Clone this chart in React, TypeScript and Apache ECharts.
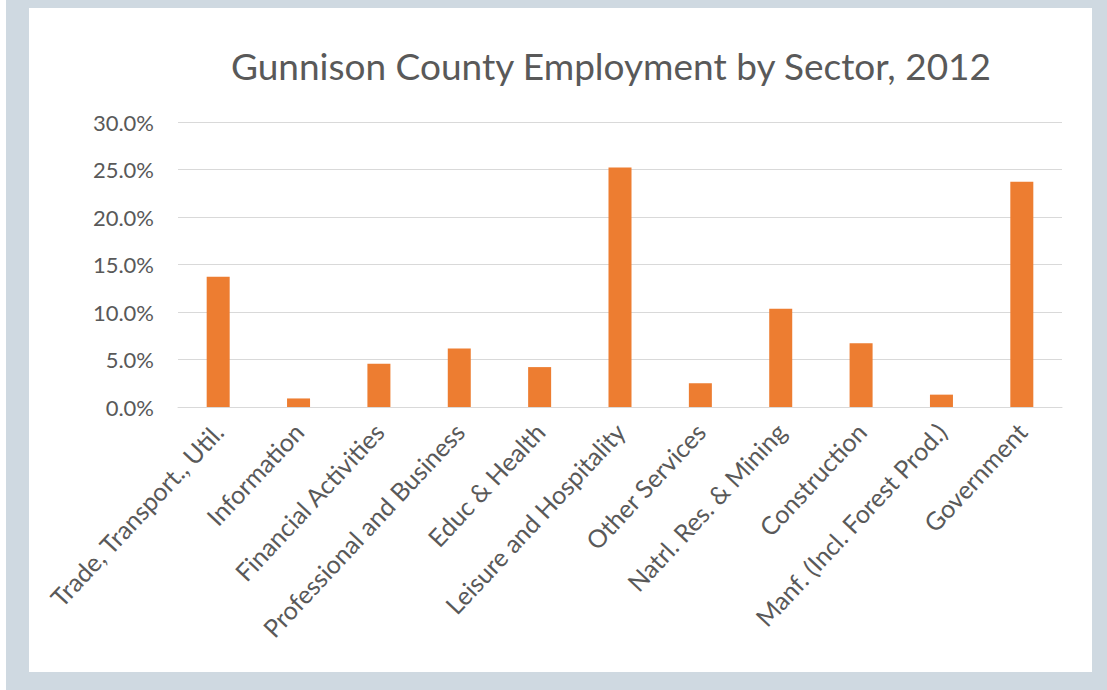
import React, { useEffect, useRef } from "react";
import * as echarts from "echarts";

const titleText = "Gunnison County Employment by Sector, 2012";
const categories = [
  "Trade, Transport., Util.",
  "Information",
  "Financial Activities",
  "Professional and Business",
  "Educ & Health",
  "Leisure and Hospitality",
  "Other Services",
  "Natrl. Res. & Mining",
  "Construction",
  "Manf. (Incl. Forest Prod.)",
  "Government",
];
const shares = [0.137, 0.009, 0.0455, 0.0615, 0.042, 0.252, 0.025, 0.1035, 0.067, 0.013, 0.237];

export default function App() {
  const ref = useRef<HTMLDivElement>(null);
  useEffect(() => {
    document.body.style.margin = "0";
    const chart = echarts.init(ref.current!, null, { renderer: "svg" });
    chart.setOption({
      animation: false,
      backgroundColor: "#ffffff",
      textStyle: { fontFamily: "Lato" },
      graphic: [
        { type: "rect", z: -10, shape: { x: 6, y: 0, width: 1101, height: 690 }, style: { fill: "#cfd9e1" } },
        { type: "rect", z: -9, shape: { x: 29, y: 8, width: 1063, height: 664 }, style: { fill: "#ffffff" } },
      ],
      title: {
        text: titleText,
        left: 606,
        textAlign: "center",
        top: 42,
        textStyle: { fontFamily: "Lato", fontSize: 37, fontWeight: "normal", color: "#595959" },
      },
      grid: { left: 178, right: 45, top: 122, bottom: 283, containLabel: false },
      xAxis: {
        type: "category",
        data: categories,
        axisLine: { lineStyle: { color: "#d9d9d9" } },
        axisTick: { show: false },
        axisLabel: { rotate: 47, interval: 0, margin: 20, fontSize: 25, color: "#595959", fontFamily: "Lato" },
      },
      yAxis: {
        type: "value",
        min: 0,
        max: 0.3,
        interval: 0.05,
        axisLine: { show: false },
        axisTick: { show: false },
        splitLine: { lineStyle: { color: "#d9d9d9" } },
        axisLabel: {
          margin: 24,
          fontSize: 22,
          color: "#595959",
          fontFamily: "Lato",
          formatter: (v: number) => (v * 100).toFixed(1) + "%",
        },
      },
      series: [
        {
          type: "bar",
          data: shares,
          barWidth: 23,
          itemStyle: { color: "#ed7d31" },
        },
      ],
    });
    return () => chart.dispose();
  }, []);
  return <div ref={ref} style={{ width: 1107, height: 690 }} />;
}
